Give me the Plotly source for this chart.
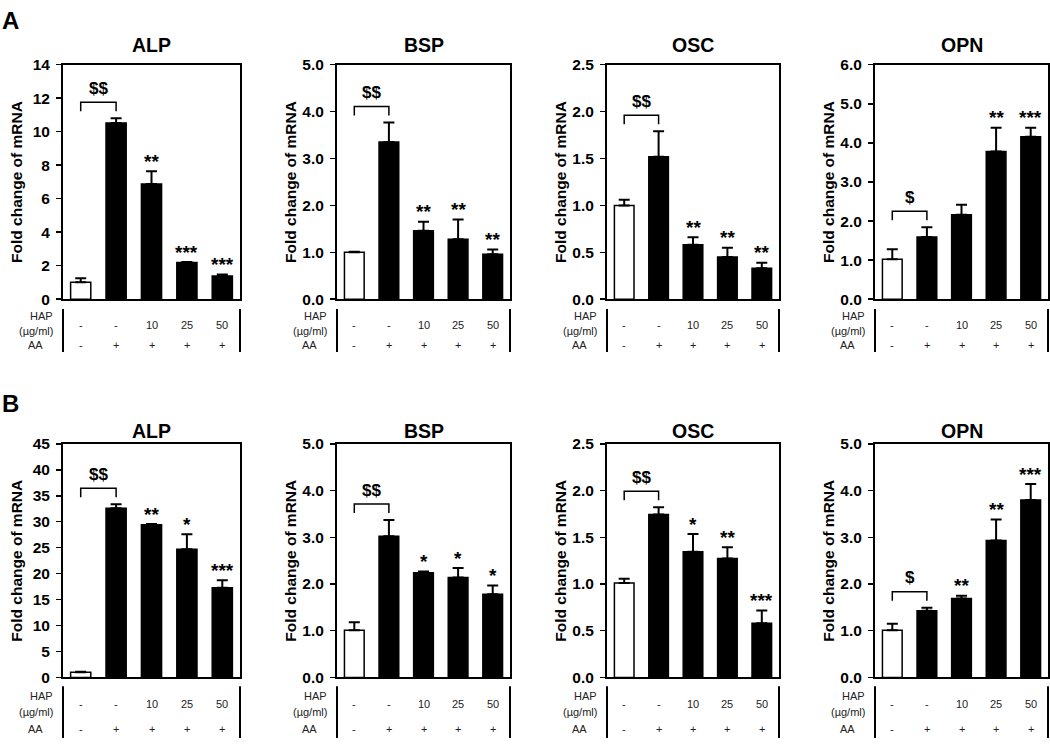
import plotly.graph_objects as go

W, H = 1050, 747

# ---------------- data ----------------
conditions = [0, 1, 2, 3, 4]
hap_labels = ["-", "-", "10", "25", "50"]
aa_labels = ["-", "+", "+", "+", "+"]
genes = ["ALP", "BSP", "OSC", "OPN"]

# Panel A
a_alp = [1.02, 10.52, 6.88, 2.19, 1.38]
a_alp_err = [0.23, 0.29, 0.76, 0.03, 0.09]
a_alp_sig = ["", "", "**", "***", "***"]
a_alp_bracket = "$$"

a_bsp = [1.00, 3.35, 1.46, 1.28, 0.96]
a_bsp_err = [0.01, 0.42, 0.19, 0.42, 0.10]
a_bsp_sig = ["", "", "**", "**", "**"]
a_bsp_bracket = "$$"

a_osc = [1.00, 1.52, 0.58, 0.45, 0.33]
a_osc_err = [0.06, 0.27, 0.08, 0.10, 0.06]
a_osc_sig = ["", "", "**", "**", "**"]
a_osc_bracket = "$$"

a_opn = [1.02, 1.59, 2.16, 3.78, 4.16]
a_opn_err = [0.26, 0.25, 0.26, 0.61, 0.23]
a_opn_sig = ["", "", "", "**", "***"]
a_opn_bracket = "$"

# Panel B
b_alp = [1.00, 32.6, 29.4, 24.7, 17.3]
b_alp_err = [0.10, 0.75, 0.15, 2.90, 1.40]
b_alp_sig = ["", "", "**", "*", "***"]
b_alp_bracket = "$$"

b_bsp = [1.01, 3.02, 2.24, 2.14, 1.78]
b_bsp_err = [0.17, 0.35, 0.03, 0.20, 0.19]
b_bsp_sig = ["", "", "*", "*", "*"]
b_bsp_bracket = "$$"

b_osc = [1.01, 1.745, 1.344, 1.274, 0.58]
b_osc_err = [0.045, 0.077, 0.19, 0.12, 0.136]
b_osc_sig = ["", "", "*", "**", "***"]
b_osc_bracket = "$$"

b_opn = [1.01, 1.43, 1.69, 2.93, 3.80]
b_opn_err = [0.14, 0.06, 0.06, 0.45, 0.34]
b_opn_sig = ["", "", "**", "**", "***"]
b_opn_bracket = "$"

# y-axis settings per panel: (max, step, format)
a_axes = [(14, 2, "d"), (5, 1, ".1f"), (2.5, 0.5, ".1f"), (6, 1, ".1f")]
b_axes = [(45, 5, "d"), (5, 1, ".1f"), (2.5, 0.5, ".1f"), (5, 1, ".1f")]

panels = [
    ("A", a_alp, a_alp_err, a_alp_sig, a_alp_bracket, a_axes[0], "ALP"),
    ("A", a_bsp, a_bsp_err, a_bsp_sig, a_bsp_bracket, a_axes[1], "BSP"),
    ("A", a_osc, a_osc_err, a_osc_sig, a_osc_bracket, a_axes[2], "OSC"),
    ("A", a_opn, a_opn_err, a_opn_sig, a_opn_bracket, a_axes[3], "OPN"),
    ("B", b_alp, b_alp_err, b_alp_sig, b_alp_bracket, b_axes[0], "ALP"),
    ("B", b_bsp, b_bsp_err, b_bsp_sig, b_bsp_bracket, b_axes[1], "BSP"),
    ("B", b_osc, b_osc_err, b_osc_sig, b_osc_bracket, b_axes[2], "OSC"),
    ("B", b_opn, b_opn_err, b_opn_sig, b_opn_bracket, b_axes[3], "OPN"),
]

# ---------------- layout geometry (pixels) ----------------
col_x = [(63, 240), (337, 510), (607, 779), (875, 1048)]
row_geo = {
    "A": dict(top=57, bot=297, title=37, letter=12,
              line0=307, line1=351, hap=314, unit=330, val=323, aa=344),
    "B": dict(top=445, bot=684, title=432, letter=404,
              line0=693, line1=746, hap=703, unit=719, val=711, aa=737),
}

FONT = "Liberation Sans, Arial, Helvetica, sans-serif"


def px(xp):
    return xp / W


def py(yp):
    return 1 - yp / H


fig = go.Figure()
layout = dict(
    width=W, height=H, autosize=False,
    margin=dict(l=0, r=0, t=0, b=0),
    paper_bgcolor="white", plot_bgcolor="white",
    showlegend=False,
    font=dict(family=FONT, color="black"),
)
annotations = []
shapes = []

for i, (row, vals, errs, sigs, brk, (ymax, ystep, yfmt), gene) in enumerate(panels):
    n = i + 1
    sfx = "" if n == 1 else str(n)
    xa, ya = f"x{sfx}", f"y{sfx}"
    g = row_geo[row]
    x0p, x1p = col_x[i % 4]

    colors = ["white"] + ["black"] * (len(vals) - 1)
    fig.add_trace(go.Bar(
        x=conditions, y=vals, width=0.57,
        marker=dict(color=colors, line=dict(color="black", width=1.5)),
        error_y=dict(type="data", array=errs, arrayminus=[0] * len(errs),
                     symmetric=False, thickness=2, width=5.5, color="black"),
        xaxis=xa, yaxis=ya, hoverinfo="skip",
    ))

    layout[f"xaxis{sfx}"] = dict(
        domain=[px(x0p), px(x1p)], anchor=ya, range=[-0.5, 4.5],
        showticklabels=False, ticks="", showgrid=False, zeroline=False,
        showline=True, linecolor="black", linewidth=2, mirror=True,
        fixedrange=True,
    )
    layout[f"yaxis{sfx}"] = dict(
        domain=[py(g["bot"]), py(g["top"])], anchor=xa, range=[0, ymax],
        dtick=ystep, tick0=0, tickformat=yfmt, showgrid=False, zeroline=False,
        showline=True, linecolor="black", linewidth=2, mirror=True,
        ticks="outside", ticklen=5, tickwidth=1.5, tickcolor="black",
        ticklabelstandoff=3,
        tickfont=dict(family=FONT, size=15.5, color="black", weight="bold"),
        fixedrange=True,
    )

    # gene title
    annotations.append(dict(
        text=f"<b>{gene}</b>", xref=f"{xa} domain", x=0.5, yref="paper",
        y=py(g["title"]), xanchor="center", yanchor="middle", showarrow=False,
        font=dict(family=FONT, size=19.5, color="black"),
    ))
    # y-axis title
    annotations.append(dict(
        text="<b>Fold change of mRNA</b>", xref=f"{xa} domain", x=0, xshift=-46,
        yref=f"{ya} domain", y=0.5, xanchor="center", yanchor="middle",
        textangle=-90, showarrow=False,
        font=dict(family=FONT, size=15.5, color="black"),
    ))

    # significance stars
    for k, s in enumerate(sigs):
        if s:
            annotations.append(dict(
                text=f"<b>{s}</b>", x=conditions[k], y=vals[k] + errs[k],
                xref=xa, yref=ya, xanchor="center", yanchor="middle",
                yshift=10, showarrow=False,
                font=dict(family=FONT, size=19, color="black"),
            ))

    # bracket between control groups
    anchor_y = max(vals[0] + errs[0], vals[1] + errs[1])
    shapes.append(dict(
        type="path", xref=xa, yref=ya, ysizemode="pixel", yanchor=anchor_y,
        path=f"M {conditions[0]},7 L {conditions[0]},16 L {conditions[1]},16 L {conditions[1]},7",
        line=dict(color="black", width=1.5),
    ))
    annotations.append(dict(
        text=f"<b>{brk}</b>", x=(conditions[0] + conditions[1]) / 2, y=anchor_y,
        xref=xa, yref=ya, xanchor="center", yanchor="middle", yshift=30,
        showarrow=False, font=dict(family=FONT, size=17, color="black"),
    ))

    # condition table below the plot
    for xd in (0, 1):
        shapes.append(dict(
            type="line", xref=f"{xa} domain", x0=xd, x1=xd,
            yref="paper", y0=py(g["line0"]), y1=py(g["line1"]),
            line=dict(color="black", width=2),
        ))
    tf = dict(family=FONT, size=11, color="#222222")
    annotations.append(dict(text="HAP", xref=f"{xa} domain", x=0, xshift=-8,
                            yref="paper", y=py(g["hap"]), xanchor="right",
                            yanchor="middle", showarrow=False, font=tf))
    annotations.append(dict(text="(µg/ml)", xref=f"{xa} domain", x=0, xshift=-8,
                            yref="paper", y=py(g["unit"]), xanchor="right",
                            yanchor="middle", showarrow=False, font=tf))
    annotations.append(dict(text="AA", xref=f"{xa} domain", x=0, xshift=-28,
                            yref="paper", y=py(g["aa"]), xanchor="center",
                            yanchor="middle", showarrow=False, font=tf))
    for k in range(len(conditions)):
        annotations.append(dict(text=hap_labels[k], x=conditions[k], xref=xa,
                                yref="paper", y=py(g["val"]), xanchor="center",
                                yanchor="middle", showarrow=False, font=tf))
        annotations.append(dict(text=aa_labels[k], x=conditions[k], xref=xa,
                                yref="paper", y=py(g["aa"]), xanchor="center",
                                yanchor="middle", showarrow=False, font=tf))

# panel letters
for row in ("A", "B"):
    annotations.append(dict(
        text=f"<b>{row}</b>", xref="paper", x=0, yref="paper",
        y=py(row_geo[row]["letter"]), xanchor="left", yanchor="middle",
        showarrow=False, font=dict(family=FONT, size=24, color="black"),
    ))

layout["annotations"] = annotations
layout["shapes"] = shapes
fig.update_layout(**layout)

fig.write_html(
    "out.html",
    config={"displayModeBar": False, "staticPlot": True},
    post_script="document.body.style.margin='0';document.body.style.overflow='hidden';",
)
